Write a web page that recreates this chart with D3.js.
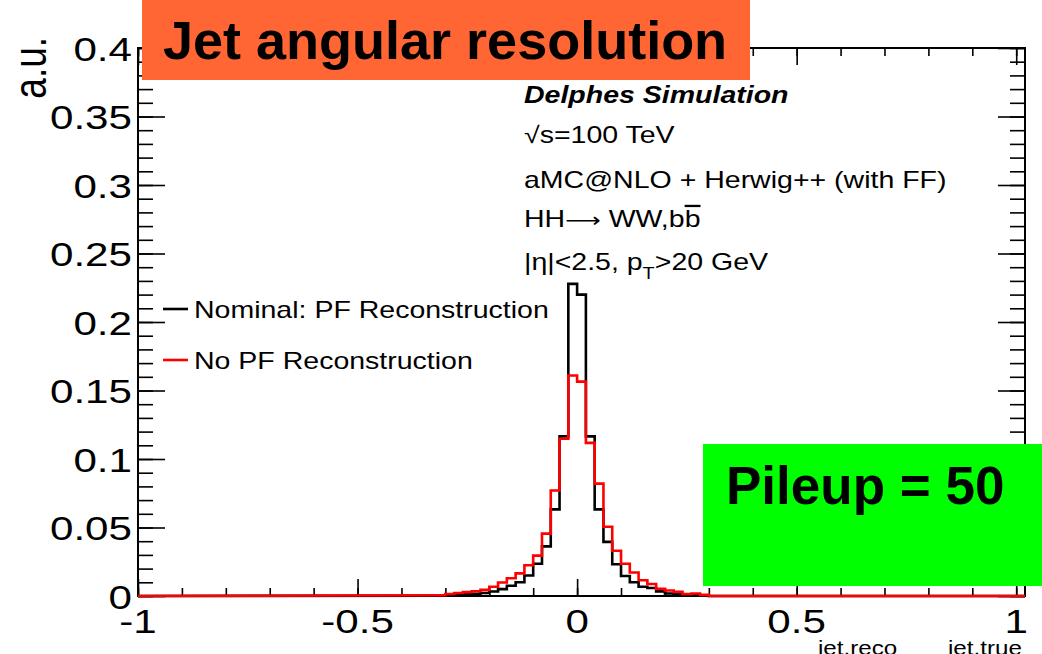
<!DOCTYPE html>
<html><head><meta charset="utf-8">
<script src="https://cdn.jsdelivr.net/npm/d3@7"></script>
<style>body{margin:0;background:#fff;} svg{display:block;}</style>
</head><body>
<svg id="chart" width="1042" height="654"></svg>
<script>
// ---- data ----
const binLowEdges = [-0.32,-0.30,-0.28,-0.26,-0.24,-0.22,-0.20,-0.18,-0.16,-0.14,-0.12,-0.10,-0.08,-0.06,-0.04,-0.02,
                      0.00, 0.02, 0.04, 0.06, 0.08, 0.10, 0.12, 0.14, 0.16, 0.18, 0.20, 0.22, 0.24, 0.26, 0.28];
const binWidth = 0.02;
const nominalPF = [0.0002,0.0005,0.0008,0.0012,0.0016,0.0022,0.0033,0.0050,0.0075,0.0100,0.0150,0.0235,0.0362,0.0632,0.1165,0.2278,
                   0.2200,0.1165,0.0632,0.0395,0.0232,0.0146,0.0100,0.0068,0.0058,0.0034,0.0018,0.0014,0.0010,0.0007,0.0004];
const noPF      = [0.0005,0.0015,0.0022,0.0028,0.0035,0.0045,0.0068,0.0098,0.0130,0.0165,0.0225,0.0295,0.0455,0.0770,0.1148,0.1610,
                   0.1565,0.1118,0.0820,0.0505,0.0330,0.0235,0.0172,0.0115,0.0088,0.0052,0.0040,0.0030,0.0015,0.0018,0.0008];
const seriesNames = ["Nominal: PF Reconstruction", "No PF Reconstruction"];
const seriesColors = ["#000000", "#ff0000"];
const yTickValues = [0,0.05,0.1,0.15,0.2,0.25,0.3,0.35,0.4];
const yTickLabels = ["0","0.05","0.1","0.15","0.2","0.25","0.3","0.35","0.4"];
const xTickValues = [-1,-0.5,0,0.5,1];
const xTickLabels = ["-1","-0.5","0","0.5","1"];
const yTitle = "a.u.";
const xTitleParts = ["jet,reco", "jet,true"];
const titleText = "Jet angular resolution";
const pileupText = "Pileup = 50";

// ---- layout ----
const svg = d3.select("#chart");
const FONT = "'Liberation Sans', Arial, Helvetica, sans-serif";
const SX = 1.24; // horizontal stretch of the original picture
const x = d3.scaleLinear().domain([-1, 1.02]).range([138, 1025]);
const y = d3.scaleLinear().domain([0, 0.4]).range([596, 48]);
const [X0, X1] = x.range();
const [Y0, Y1] = y.range();

function stext(px, py, str, size, anchor, weight, style) {
  return svg.append("text")
    .attr("transform", `translate(${px},${py}) scale(${SX},1)`)
    .attr("text-anchor", anchor || "start")
    .attr("font-family", FONT)
    .attr("font-size", size)
    .attr("font-weight", weight || "normal")
    .attr("font-style", style || "normal")
    .attr("fill", "#000")
    .text(str);
}

// ---- ticks ----
const yMinor = d3.range(0, 0.4001, 0.01);
const xMinor = d3.range(-1, 1.0001, 0.1);
function noDomain(g){ g.select(".domain").remove(); g.selectAll("line").attr("stroke","#000").attr("stroke-width",1.6); }
svg.append("g").attr("transform",`translate(${X0},0)`).call(d3.axisLeft(y).tickValues(yMinor).tickSize(-15).tickFormat("")).call(noDomain);
svg.append("g").attr("transform",`translate(${X0},0)`).call(d3.axisLeft(y).tickValues(yTickValues).tickSize(-27).tickFormat("")).call(noDomain);
svg.append("g").attr("transform",`translate(${X1},0)`).call(d3.axisRight(y).tickValues(yMinor).tickSize(-15).tickFormat("")).call(noDomain);
svg.append("g").attr("transform",`translate(${X1},0)`).call(d3.axisRight(y).tickValues(yTickValues).tickSize(-27).tickFormat("")).call(noDomain);
svg.append("g").attr("transform",`translate(0,${Y0})`).call(d3.axisBottom(x).tickValues(xMinor).tickSize(-8).tickFormat("")).call(noDomain);
svg.append("g").attr("transform",`translate(0,${Y0})`).call(d3.axisBottom(x).tickValues(xTickValues).tickSize(-17).tickFormat("")).call(noDomain);
svg.append("g").attr("transform",`translate(0,${Y1})`).call(d3.axisTop(x).tickValues(xMinor).tickSize(-8).tickFormat("")).call(noDomain);
svg.append("g").attr("transform",`translate(0,${Y1})`).call(d3.axisTop(x).tickValues(xTickValues).tickSize(-17).tickFormat("")).call(noDomain);

// frame
svg.append("rect").attr("x",X0).attr("y",Y1).attr("width",X1-X0).attr("height",Y0-Y1)
  .attr("fill","none").attr("stroke","#000").attr("stroke-width",2);

// tick labels
yTickValues.forEach((v,i)=> stext(132, y(v)+12.5, yTickLabels[i], 34, "end"));
xTickValues.forEach((v,i)=> stext(x(v), 633, xTickLabels[i], 34, "middle"));

// axis titles
svg.append("text")
  .attr("transform", `translate(46,37) scale(${SX},1) rotate(-90)`)
  .attr("text-anchor","end").attr("font-family",FONT).attr("font-size",37).attr("fill","#000")
  .text(yTitle);
stext(818, 655, xTitleParts[0], 19.5, "start");
stext(948, 655, xTitleParts[1], 19.5, "start");

// ---- histograms ----
function stepPath(vals){
  const p = d3.path();
  p.moveTo(x(-1), y(0));
  vals.forEach((v,i)=>{
    const lo = binLowEdges[i], hi = lo + binWidth;
    p.lineTo(x(lo), y(v));
    p.lineTo(x(hi), y(v));
  });
  const last = binLowEdges[binLowEdges.length-1] + binWidth;
  p.lineTo(x(last), y(0));
  p.lineTo(x(1.02), y(0));
  return p.toString();
}
[nominalPF, noPF].forEach((vals,i)=>{
  svg.append("path").attr("d", stepPath(vals)).attr("fill","none")
    .attr("stroke", seriesColors[i]).attr("stroke-width",2.6).attr("stroke-linejoin","miter");
});

// ---- legend ----
const legendY = [309, 360];
seriesNames.forEach((name,i)=>{
  svg.append("line").attr("x1",163).attr("x2",188).attr("y1",legendY[i]).attr("y2",legendY[i])
    .attr("stroke",seriesColors[i]).attr("stroke-width",2.6);
  stext(194, legendY[i]+9, name, 23, "start");
});

// ---- info text ----
stext(524, 103, "Delphes Simulation", 23, "start", "bold", "italic");
stext(524, 143, "\u221As=100 TeV", 23, "start");
stext(524, 188, "aMC@NLO + Herwig++ (with FF)", 23, "start");
const t4 = stext(524, 227, "HH", 23, "start");
t4.append("tspan").attr("font-family","'DejaVu Sans', sans-serif").attr("font-size",20).text("\u27F6");
t4.append("tspan").text(" WW,b");
t4.append("tspan").style("text-decoration","overline").text("b");
const t5 = stext(524, 270, "|\u03B7|<2.5, p", 23, "start");
t5.append("tspan").attr("dy",9).attr("font-size",16).text("T");
t5.append("tspan").attr("dy",-9).text(">20 GeV");

// ---- overlay boxes ----
svg.append("rect").attr("x",142).attr("y",0).attr("width",608).attr("height",80).attr("fill","#ff6633");
svg.append("text").attr("x",163).attr("y",59).attr("font-family",FONT).attr("font-size",54)
  .attr("font-weight","bold").attr("fill","#000").text(titleText);
svg.append("rect").attr("x",703).attr("y",444).attr("width",339).attr("height",142).attr("fill","#00ff00");
svg.append("text").attr("x",726).attr("y",504).attr("font-family",FONT).attr("font-size",53)
  .attr("font-weight","bold").attr("fill","#000").text(pileupText);
</script>
</body></html>
